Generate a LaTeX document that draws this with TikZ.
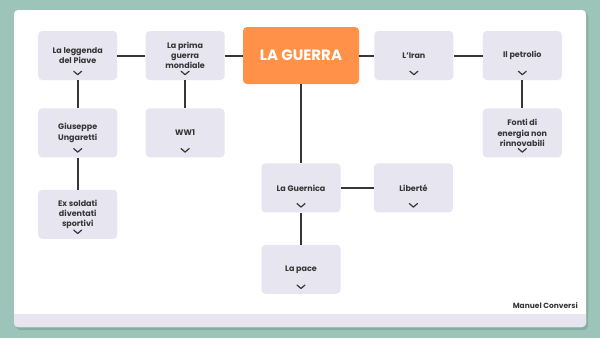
\documentclass[tikz,border=0pt]{standalone}
\usepackage{fontspec}
\setmainfont{Poppins}
\usetikzlibrary{positioning}

\definecolor{bgteal}{HTML}{9CC4B9}
\definecolor{shadowteal}{HTML}{86AFA4}
\definecolor{boxfill}{HTML}{E6E5F0}
\definecolor{mainorange}{HTML}{FF9248}
\definecolor{linegray}{HTML}{363636}

\begin{document}
\begin{tikzpicture}[
    x=1pt, y=-1pt,
    topic/.style={rectangle, rounded corners=4pt, minimum width=79pt, minimum height=49pt, text centered, align=center, fill=boxfill, font=\bfseries\fontsize{8}{10.3}\selectfont, text=linegray},
    maintopic/.style={rectangle, rounded corners=4pt, minimum width=116pt, minimum height=57pt, text centered, fill=mainorange, text=white, font=\bfseries\fontsize{15}{17}\selectfont},
    link/.style={line width=2pt, draw=linegray},
    chev/.style={line width=1.2pt, draw=linegray, line cap=round, line join=round}
]

% Background and card
\useasboundingbox (0,0) rectangle (600,338);
\fill[bgteal] (0,0) rectangle (600,338);
\fill[shadowteal, rounded corners=4pt] (16,12) rectangle (588,330);
\fill[white, rounded corners=4pt] (14,10) rectangle (586,327);
\fill[boxfill, rounded corners=4pt] (14,314) rectangle (586,327);
\fill[boxfill] (14,314) rectangle (586,320);

% Nodes
\node (guerra) [maintopic] at (301,55.5) {LA GUERRA};

\node (prima) [topic, left=18pt of guerra] {La prima\\guerra\\mondiale};

\node (leggenda) [topic, left=28pt of prima] {La leggenda\\del Piave};

\node (iran) [topic, right=15pt of guerra] {L'Iran};

\node (petrolio) [topic, right=29pt of iran] {Il petrolio};

\node (ungaretti) [topic, below=28pt of leggenda] {Giuseppe\\Ungaretti};

\node (ww1) [topic, below=28pt of prima] {WW1};

\node (fonti) [topic, below=28pt of petrolio] {Fonti di\\energia non\\rinnovabili};

\node (soldati) [topic, below=32pt of ungaretti] {Ex soldati\\diventati\\sportivi};

\node (guernica) [topic, below=79pt of guerra] {La Guernica};

\node (liberte) [topic, right=33pt of guernica] {Libert\'e};

\node (pace) [topic, below=32pt of guernica] {La pace};

\node (autore) [anchor=east, font=\bfseries\fontsize{7.5}{9}\selectfont, text=linegray, inner sep=0pt] at (578,306) {Manuel Conversi};

% Connectors
\draw [link] (leggenda) -- (prima);
\draw [link] (prima) -- (guerra);
\draw [link] (guerra) -- (iran);
\draw [link] (iran) -- (petrolio);
\draw [link] (leggenda) -- (ungaretti);
\draw [link] (ungaretti) -- (soldati);
\draw [link] (prima) -- (ww1);
\draw [link] (petrolio) -- (fonti);
\draw [link] (guerra) -- (guernica);
\draw [link] (guernica) -- (liberte);
\draw [link] (guernica) -- (pace);

% Chevrons
\foreach \n in {leggenda, prima, iran, petrolio, ungaretti, ww1, fonti, soldati, guernica, liberte, pace}
    \draw [chev] (\n.south) ++(-4,-9) -- ++(4,3.5) -- ++(4,-3.5);

\end{tikzpicture}
\end{document}
